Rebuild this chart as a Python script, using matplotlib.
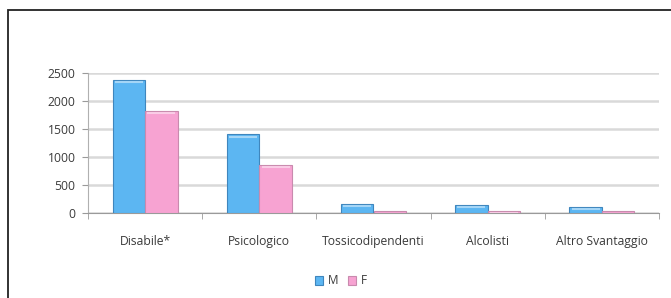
import numpy as np
import matplotlib.pyplot as plt
from matplotlib.patches import Rectangle

categories = ["Disabile*", "Psicologico", "Tossicodipendenti", "Alcolisti", "Altro Svantaggio"]
m_values = [2370, 1400, 160, 140, 110]
f_values = [1820, 860, 30, 35, 30]
y_ticks = [0, 500, 1000, 1500, 2000, 2500]

plt.rcParams['font.family'] = ['Open Sans', 'DejaVu Sans']

fig = plt.figure(figsize=(6.71, 2.98), dpi=100)
fig.patch.set_facecolor("white")

# outer frame (runs off the right and bottom edges)
fig.patches.append(Rectangle((8 / 671, -0.1), 1.0, (298 - 10) / 298 + 0.1,
                             transform=fig.transFigure, fill=False,
                             edgecolor="#222222", linewidth=1.3))

ax = fig.add_axes([88 / 671, 85 / 298, (659 - 88) / 671, (213 - 72.5) / 298])

x = np.arange(len(categories))
w = 0.285
ax.bar(x - w / 2, m_values, w, color="#5cb6f2", edgecolor="#3f86bd", linewidth=0.8, label="M", zorder=3)
ax.bar(x + w / 2, f_values, w, color="#f7a3d2", edgecolor="#c98aae", linewidth=0.8, label="F", zorder=3)

# light top highlight on the bars
for xs, vals in ((x - w / 2, m_values), (x + w / 2, f_values)):
    for xi, v in zip(xs, vals):
        ax.plot([xi - w / 2 + 0.02, xi + w / 2 - 0.02], [v - 40, v - 40],
                color="white", alpha=0.45, linewidth=1.5, zorder=4, solid_capstyle="butt")

ax.set_xlim(-0.5, len(categories) - 0.5)
ax.set_ylim(0, 2500)
ax.set_yticks(y_ticks)
ax.set_xticks(x)
ax.set_xticklabels(categories)
ax.set_xticks(np.arange(len(categories) + 1) - 0.5, minor=True)
ax.tick_params(axis="x", which="major", length=0, pad=16, labelsize=8.7, labelcolor="#3a3a3a")
ax.tick_params(axis="x", which="minor", length=4, color="#9a9a9a", direction="out")
ax.tick_params(axis="y", length=4, color="#9a9a9a", labelsize=8.7, labelcolor="#3a3a3a", pad=5)

ax.yaxis.grid(True, color="#d9d9d9", linewidth=1.8, zorder=0)
ax.set_axisbelow(True)
for s in ("top", "right"):
    ax.spines[s].set_visible(False)
ax.spines["left"].set_color("#b0b0b0")
ax.spines["bottom"].set_color("#9a9a9a")

leg = fig.legend(loc="center", bbox_to_anchor=(341 / 671, 1 - 281 / 298), ncol=2,
                 frameon=False, fontsize=8.5, handlelength=0.7, handleheight=0.7,
                 handletextpad=0.4, columnspacing=0.8)
for t in leg.get_texts():
    t.set_color("#3a3a3a")

fig.savefig("out.png", dpi=100)
